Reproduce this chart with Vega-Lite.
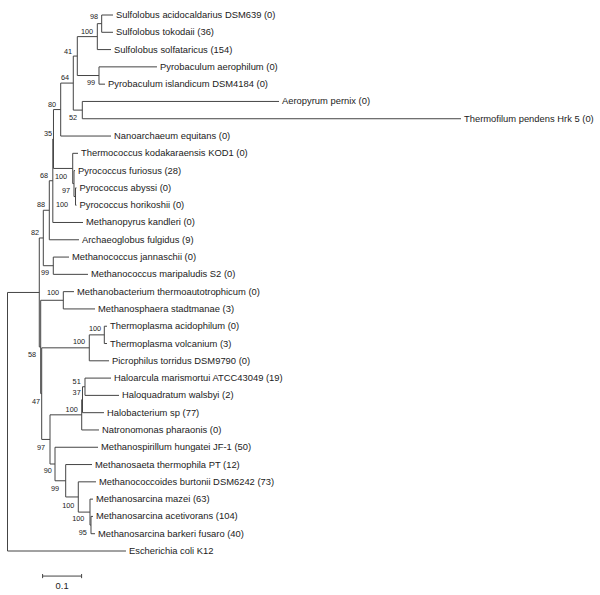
{
  "$schema": "https://vega.github.io/schema/vega-lite/v6.json",
  "width": 600,
  "height": 595,
  "padding": 0,
  "autosize": {"type": "none"},
  "background": "white",
  "config": {"view": {"stroke": null}},
  "datasets": {
    "tree": [
      {"node": "root", "x": 0, "px": 0, "y": 23.52, "top": 16.047, "bot": 31},
      {"node": "archaea", "x": 0.0815, "px": 0, "y": 16.047, "top": 12.896, "bot": 19.199},
      {"node": "ecoli", "x": 0.3038, "px": 0, "y": 31, "label": "Escherichia coli K12"},
      {"node": "n82", "x": 0.0918, "px": 0.0815, "y": 12.896, "top": 11.293, "bot": 14.5},
      {"node": "n58", "x": 0.0851, "px": 0.0815, "y": 19.199, "top": 16.5, "bot": 21.898},
      {"node": "n88", "x": 0.1072, "px": 0.0918, "y": 11.293, "top": 9.586, "bot": 13},
      {"node": "n99mc", "x": 0.1174, "px": 0.0918, "y": 14.5, "top": 14, "bot": 15},
      {"node": "n68", "x": 0.1162, "px": 0.1072, "y": 9.586, "top": 7.172, "bot": 12},
      {"node": "archaeoglobus", "x": 0.1833, "px": 0.1072, "y": 13, "label": "Archaeoglobus fulgidus (9)"},
      {"node": "n35", "x": 0.1179, "px": 0.1162, "y": 7.172, "top": 5.469, "bot": 8.875},
      {"node": "methanopyrus", "x": 0.1936, "px": 0.1162, "y": 12, "label": "Methanopyrus kandleri (0)"},
      {"node": "n80", "x": 0.1364, "px": 0.1179, "y": 5.469, "top": 3.938, "bot": 7},
      {"node": "n100thermo", "x": 0.1672, "px": 0.1179, "y": 8.875, "top": 8, "bot": 9.75},
      {"node": "n64", "x": 0.1687, "px": 0.1364, "y": 3.938, "top": 2.375, "bot": 5.5},
      {"node": "nano", "x": 0.2654, "px": 0.1364, "y": 7, "label": "Nanoarchaeum equitans (0)"},
      {"node": "n41", "x": 0.179, "px": 0.1687, "y": 2.375, "top": 1.25, "bot": 3.5},
      {"node": "n52", "x": 0.1918, "px": 0.1687, "y": 5.5, "top": 5, "bot": 6},
      {"node": "n100s", "x": 0.2303, "px": 0.179, "y": 1.25, "top": 0.5, "bot": 2},
      {"node": "n99p", "x": 0.2346, "px": 0.179, "y": 3.5, "top": 3, "bot": 4},
      {"node": "n98", "x": 0.2415, "px": 0.2303, "y": 0.5, "top": 0, "bot": 1},
      {"node": "acid", "x": 0.2705, "px": 0.2415, "y": 0, "label": "Sulfolobus acidocaldarius DSM639 (0)"},
      {"node": "tok", "x": 0.2705, "px": 0.2415, "y": 1, "label": "Sulfolobus tokodaii (36)"},
      {"node": "solf", "x": 0.2654, "px": 0.2303, "y": 2, "label": "Sulfolobus solfataricus (154)"},
      {"node": "aero", "x": 0.3833, "px": 0.2346, "y": 3, "label": "Pyrobaculum aerophilum (0)"},
      {"node": "isl", "x": 0.25, "px": 0.2346, "y": 4, "label": "Pyrobaculum islandicum DSM4184 (0)"},
      {"node": "aeropyrum", "x": 0.6962, "px": 0.1918, "y": 5, "label": "Aeropyrum pernix (0)"},
      {"node": "thermofilum", "x": 1.1628, "px": 0.1918, "y": 6, "label": "Thermofilum pendens Hrk 5 (0)"},
      {"node": "kod", "x": 0.1808, "px": 0.1672, "y": 8, "label": "Thermococcus kodakaraensis KOD1 (0)"},
      {"node": "n100pyro", "x": 0.1705, "px": 0.1672, "y": 9.75, "top": 9, "bot": 10.5},
      {"node": "fur", "x": 0.1731, "px": 0.1705, "y": 9, "label": "Pyrococcus furiosus (28)"},
      {"node": "n97pyro", "x": 0.1744, "px": 0.1705, "y": 10.5, "top": 10, "bot": 11},
      {"node": "abyssi", "x": 0.1769, "px": 0.1744, "y": 10, "label": "Pyrococcus abyssi (0)"},
      {"node": "horik", "x": 0.1769, "px": 0.1744, "y": 11, "label": "Pyrococcus horikoshii (0)"},
      {"node": "jann", "x": 0.1577, "px": 0.1174, "y": 14, "label": "Methanococcus jannaschii (0)"},
      {"node": "mari", "x": 0.2064, "px": 0.1174, "y": 15, "label": "Methanococcus maripaludis S2 (0)"},
      {"node": "n100mb", "x": 0.1431, "px": 0.0851, "y": 16.5, "top": 16, "bot": 17},
      {"node": "n47", "x": 0.0877, "px": 0.0851, "y": 21.898, "top": 19.25, "bot": 24.547},
      {"node": "mb", "x": 0.1705, "px": 0.1431, "y": 16, "label": "Methanobacterium thermoautotrophicum (0)"},
      {"node": "msph", "x": 0.2244, "px": 0.1431, "y": 17, "label": "Methanosphaera stadtmanae (3)"},
      {"node": "n100tpp", "x": 0.2097, "px": 0.0877, "y": 19.25, "top": 18.5, "bot": 20},
      {"node": "n97", "x": 0.109, "px": 0.0877, "y": 24.547, "top": 23.125, "bot": 25.969},
      {"node": "n100tp", "x": 0.2482, "px": 0.2097, "y": 18.5, "top": 18, "bot": 19},
      {"node": "tpa", "x": 0.2551, "px": 0.2482, "y": 18, "label": "Thermoplasma acidophilum (0)"},
      {"node": "tpv", "x": 0.2551, "px": 0.2482, "y": 19, "label": "Thermoplasma volcanium (3)"},
      {"node": "picro", "x": 0.2603, "px": 0.2097, "y": 20, "label": "Picrophilus torridus DSM9790 (0)"},
      {"node": "n100h", "x": 0.1903, "px": 0.109, "y": 23.125, "top": 22.25, "bot": 24},
      {"node": "n90", "x": 0.1218, "px": 0.109, "y": 25.969, "top": 25, "bot": 26.938},
      {"node": "n37", "x": 0.1923, "px": 0.1903, "y": 22.25, "top": 21.5, "bot": 23},
      {"node": "natro", "x": 0.2346, "px": 0.1903, "y": 24, "label": "Natronomonas pharaonis (0)"},
      {"node": "n51", "x": 0.1987, "px": 0.1923, "y": 21.5, "top": 21, "bot": 22},
      {"node": "halobact", "x": 0.2474, "px": 0.1923, "y": 23, "label": "Halobacterium sp (77)"},
      {"node": "haloarcula", "x": 0.2654, "px": 0.1987, "y": 21, "label": "Haloarcula marismortui ATCC43049 (19)"},
      {"node": "haloquad", "x": 0.2859, "px": 0.1987, "y": 22, "label": "Haloquadratum walsbyi (2)"},
      {"node": "mspir", "x": 0.2321, "px": 0.1218, "y": 25, "label": "Methanospirillum hungatei JF-1 (50)"},
      {"node": "n99", "x": 0.1492, "px": 0.1218, "y": 26.938, "top": 26, "bot": 27.875},
      {"node": "msaeta", "x": 0.2167, "px": 0.1492, "y": 26, "label": "Methanosaeta thermophila PT (12)"},
      {"node": "n100mc", "x": 0.1815, "px": 0.1492, "y": 27.875, "top": 27, "bot": 28.75},
      {"node": "mcoccoides", "x": 0.2269, "px": 0.1815, "y": 27, "label": "Methanococcoides burtonii DSM6242 (73)"},
      {"node": "n100ms", "x": 0.2115, "px": 0.1815, "y": 28.75, "top": 28, "bot": 29.5},
      {"node": "mazei", "x": 0.2192, "px": 0.2115, "y": 28, "label": "Methanosarcina mazei (63)"},
      {"node": "n95", "x": 0.2141, "px": 0.2115, "y": 29.5, "top": 29, "bot": 30},
      {"node": "acet", "x": 0.2192, "px": 0.2141, "y": 29, "label": "Methanosarcina acetivorans (104)"},
      {"node": "barkeri", "x": 0.2244, "px": 0.2141, "y": 30, "label": "Methanosarcina barkeri fusaro (40)"}
    ],
    "boot": [
      {"x": 0.2218, "y": 0.116, "v": "98"},
      {"x": 0.2038, "y": 0.983, "v": "100"},
      {"x": 0.1551, "y": 2.14, "v": "41"},
      {"x": 0.2141, "y": 3.933, "v": "99"},
      {"x": 0.1474, "y": 3.644, "v": "64"},
      {"x": 0.1679, "y": 5.957, "v": "52"},
      {"x": 0.1141, "y": 5.205, "v": "80"},
      {"x": 0.1038, "y": 6.883, "v": "35"},
      {"x": 0.0936, "y": 9.312, "v": "68"},
      {"x": 0.1372, "y": 9.37, "v": "100"},
      {"x": 0.15, "y": 10.179, "v": "97"},
      {"x": 0.1397, "y": 10.989, "v": "100"},
      {"x": 0.0859, "y": 10.989, "v": "88"},
      {"x": 0.0705, "y": 12.608, "v": "82"},
      {"x": 0.0962, "y": 14.922, "v": "99"},
      {"x": 0.1167, "y": 16.079, "v": "100"},
      {"x": 0.2244, "y": 18.161, "v": "100"},
      {"x": 0.1833, "y": 18.913, "v": "100"},
      {"x": 0.0628, "y": 19.665, "v": "58"},
      {"x": 0.0731, "y": 22.383, "v": "47"},
      {"x": 0.1774, "y": 21.209, "v": "51"},
      {"x": 0.1774, "y": 21.88, "v": "37"},
      {"x": 0.1646, "y": 22.846, "v": "100"},
      {"x": 0.0859, "y": 25.043, "v": "97"},
      {"x": 0.1031, "y": 26.374, "v": "90"},
      {"x": 0.1218, "y": 27.415, "v": "99"},
      {"x": 0.1559, "y": 28.381, "v": "100"},
      {"x": 0.1815, "y": 29.168, "v": "100"},
      {"x": 0.1928, "y": 29.943, "v": "95"}
    ],
    "scalebar": [
      {"x": 0.09, "x2": 0.19, "y": 32.45, "y2": 32.45},
      {"x": 0.09, "x2": 0.09, "y": 32.33, "y2": 32.57},
      {"x": 0.19, "x2": 0.19, "y": 32.33, "y2": 32.57}
    ],
    "scalelabel": [
      {"x": 0.14, "y": 33.02, "t": "0.1"}
    ]
  },
  "layer": [
    {
      "data": {"name": "tree"},
      "mark": {"type": "rule", "color": "#444", "strokeWidth": 1},
      "encoding": {
        "x": {"field": "px", "type": "quantitative", "axis": null, "scale": {"domain": [0, 1.5], "range": [7.5, 592.5], "nice": false, "zero": false}},
        "x2": {"field": "x"},
        "y": {"field": "y", "type": "quantitative", "axis": null, "scale": {"domain": [0, 31], "range": [15, 551], "nice": false, "zero": false}}
      }
    },
    {
      "data": {"name": "tree"},
      "transform": [{"filter": "isValid(datum.top)"}],
      "mark": {"type": "rule", "color": "#444", "strokeWidth": 1},
      "encoding": {
        "x": {"field": "x", "type": "quantitative", "axis": null, "scale": {"domain": [0, 1.5], "range": [7.5, 592.5], "nice": false, "zero": false}},
        "y": {"field": "top", "type": "quantitative", "axis": null, "scale": {"domain": [0, 31], "range": [15, 551], "nice": false, "zero": false}},
        "y2": {"field": "bot"}
      }
    },
    {
      "data": {"name": "tree"},
      "transform": [{"filter": "isValid(datum.label)"}],
      "mark": {"type": "text", "align": "left", "baseline": "middle", "dx": 3, "font": "Liberation Sans", "fontSize": 9.4, "color": "#222"},
      "encoding": {
        "x": {"field": "x", "type": "quantitative", "axis": null, "scale": {"domain": [0, 1.5], "range": [7.5, 592.5], "nice": false, "zero": false}},
        "y": {"field": "y", "type": "quantitative", "axis": null, "scale": {"domain": [0, 31], "range": [15, 551], "nice": false, "zero": false}},
        "text": {"field": "label"}
      }
    },
    {
      "data": {"name": "boot"},
      "mark": {"type": "text", "align": "center", "baseline": "middle", "font": "Liberation Sans", "fontSize": 7.3, "color": "#222"},
      "encoding": {
        "x": {"field": "x", "type": "quantitative", "axis": null, "scale": {"domain": [0, 1.5], "range": [7.5, 592.5], "nice": false, "zero": false}},
        "y": {"field": "y", "type": "quantitative", "axis": null, "scale": {"domain": [0, 31], "range": [15, 551], "nice": false, "zero": false}},
        "text": {"field": "v"}
      }
    },
    {
      "data": {"name": "scalebar"},
      "mark": {"type": "rule", "color": "#444", "strokeWidth": 1},
      "encoding": {
        "x": {"field": "x", "type": "quantitative", "axis": null, "scale": {"domain": [0, 1.5], "range": [7.5, 592.5], "nice": false, "zero": false}},
        "x2": {"field": "x2"},
        "y": {"field": "y", "type": "quantitative", "axis": null, "scale": {"domain": [0, 31], "range": [15, 551], "nice": false, "zero": false}},
        "y2": {"field": "y2"}
      }
    },
    {
      "data": {"name": "scalelabel"},
      "mark": {"type": "text", "align": "center", "baseline": "middle", "font": "Liberation Sans", "fontSize": 9.4, "color": "#222"},
      "encoding": {
        "x": {"field": "x", "type": "quantitative", "axis": null, "scale": {"domain": [0, 1.5], "range": [7.5, 592.5], "nice": false, "zero": false}},
        "y": {"field": "y", "type": "quantitative", "axis": null, "scale": {"domain": [0, 31], "range": [15, 551], "nice": false, "zero": false}},
        "text": {"field": "t"}
      }
    }
  ]
}
